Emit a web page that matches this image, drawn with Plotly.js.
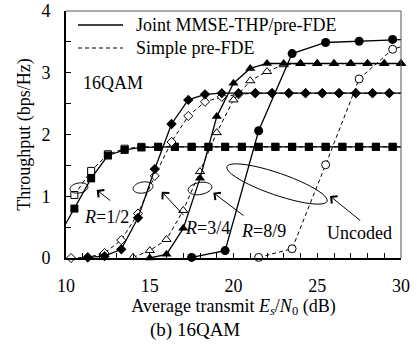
<!DOCTYPE html>
<html>
<head>
<meta charset="utf-8">
<script src="https://cdn.plot.ly/plotly-3.0.1.min.js"></script>
<style>
html,body{margin:0;padding:0;background:#fff;}
#chart{width:417px;height:348px;}
</style>
</head>
<body>
<div id="chart"></div>
<script>
// ---- data ----
// R=1/2 (squares)
const sqJointX  = [9.5, 10.5, 11.5, 12.5, 13.5, 14.5, 15.5, 16.5, 17.5, 18.5, 19.5, 20.5, 21.5, 22.5, 23.5, 24.5, 25.5, 26.5, 27.5, 28.5, 29.5, 30.5];
const sqJointY  = [0.32, 0.80, 1.29, 1.66, 1.75, 1.79, 1.80, 1.80, 1.80, 1.80, 1.80, 1.80, 1.80, 1.80, 1.80, 1.80, 1.80, 1.80, 1.80, 1.80, 1.80, 1.80];
const sqSimpleX = [10.5, 11.5, 12.5, 13.5, 14.5, 15.5, 16.5, 17.5, 18.5, 19.5, 20.5, 21.5, 22.5, 23.5, 24.5, 25.5, 26.5, 27.5, 28.5, 29.5, 30.5];
const sqSimpleY = [1.02, 1.41, 1.68, 1.77, 1.80, 1.80, 1.80, 1.80, 1.80, 1.80, 1.80, 1.80, 1.80, 1.80, 1.80, 1.80, 1.80, 1.80, 1.80, 1.80, 1.80];
// R=3/4 (diamonds)
const diJointX  = [11.3, 12.3, 13.3, 14.3, 15.3, 16.3, 17.3, 18.3, 19.3, 20.3, 21.3, 22.3, 23.3, 24.3, 25.3, 26.3, 27.3, 28.3, 29.3, 30.3];
const diJointY  = [0.01, 0.03, 0.14, 0.65, 1.44, 2.17, 2.56, 2.65, 2.67, 2.67, 2.67, 2.67, 2.67, 2.67, 2.67, 2.67, 2.67, 2.67, 2.67, 2.67];
const diSimpleX = [10.3, 11.3, 12.3, 13.3, 14.3, 15.3, 16.3, 17.3, 18.3, 19.3, 20.3, 21.3, 22.3, 23.3, 24.3, 25.3, 26.3, 27.3, 28.3, 29.3, 30.3];
const diSimpleY = [0.00, 0.01, 0.08, 0.29, 0.72, 1.33, 1.88, 2.30, 2.53, 2.61, 2.65, 2.67, 2.67, 2.67, 2.67, 2.67, 2.67, 2.67, 2.67, 2.67, 2.67];
// R=8/9 (triangles)
const trJointX  = [15, 16, 17, 18, 19, 20, 21, 22, 23, 24, 25, 26, 27, 28, 29, 30];
const trJointY  = [0.00, 0.06, 0.48, 1.29, 2.29, 2.83, 3.07, 3.15, 3.15, 3.15, 3.15, 3.15, 3.15, 3.15, 3.15, 3.15];
const trSimpleX = [14, 15, 16, 17, 18, 19, 20, 21, 22, 23, 24, 25, 26, 27, 28, 29, 30];
const trSimpleY = [0.01, 0.12, 0.30, 0.77, 1.40, 2.03, 2.56, 2.87, 3.02, 3.13, 3.15, 3.15, 3.15, 3.15, 3.15, 3.15, 3.15];
// Uncoded (circles)
const ciJointX  = [17.5, 19.5, 21.5, 23.5, 25.5, 27.5, 29.5, 31.5];
const ciJointY  = [0.01, 0.12, 2.06, 3.31, 3.49, 3.51, 3.54, 3.55];
const ciSimpleX = [21.5, 23.5, 25.5, 27.5, 29.5, 31.5];
const ciSimpleY = [0.01, 0.15, 1.51, 2.90, 3.38, 3.55];

const xTickVals = [10, 15, 20, 25, 30];
const yTickVals = [0, 1, 2, 3, 4];
const legendNames = ['Joint MMSE-THP/pre-FDE', 'Simple pre-FDE'];
const xTitle = 'Average transmit <i>E</i><sub><i>s</i></sub>/<i>N</i><sub>0</sub> (dB)';
const yTitle = 'Throughput (bps/Hz)';
const caption = '(b) 16QAM';

// ---- styling ----
const FONT = 'Liberation Serif, Times New Roman, serif';
const X0 = 10, X1 = 30, Y0 = 0, Y1 = 4;
const PL = 66, PR = 401, PT = 11, PB = 258;
const pxToX = p => X0 + (p - PL) * (X1 - X0) / (PR - PL);
const pyToY = p => Y0 + (PB - p) * (Y1 - Y0) / (PB - PT);
const pxToPaper = p => (p - PL) / (PR - PL);
const pyToPaper = p => (PB - p) / (PB - PT);

const solid = {color: '#000', width: 1.3};
const dashed = {color: '#000', width: 1, dash: '4px,3px'};

function inRange(xs, ys) {
  const ox = [], oy = [];
  xs.forEach((x, i) => { if (x >= X0 && x <= X1) { ox.push(x); oy.push(ys[i]); } });
  return {x: ox, y: oy};
}
const traces = [];
function series(xs, ys, line, symbol, size, open, name) {
  traces.push({x: xs, y: ys, mode: 'lines', line: line, name: name, showlegend: false, hoverinfo: 'skip'});
  const p = inRange(xs, ys);
  traces.push({x: p.x, y: p.y, mode: 'markers', cliponaxis: false, name: name, showlegend: false, hoverinfo: 'skip',
    marker: {symbol: symbol, size: size, color: open ? '#fff' : '#000', line: {color: '#000', width: open ? 1 : 0}}});
}
series(sqSimpleX, sqSimpleY, dashed, 'square', 7, true, legendNames[1]);
series(sqJointX, sqJointY, solid, 'square', 8, false, legendNames[0]);
series(diSimpleX, diSimpleY, dashed, 'diamond', 7, true, legendNames[1]);
series(diJointX, diJointY, solid, 'diamond', 8, false, legendNames[0]);
series(trSimpleX, trSimpleY, dashed, 'triangle-up', 8, true, legendNames[1]);
series(trJointX, trJointY, solid, 'triangle-up', 9, false, legendNames[0]);
series(ciSimpleX, ciSimpleY, dashed, 'circle', 8, true, legendNames[1]);
series(ciJointX, ciJointY, solid, 'circle', 9, false, legendNames[0]);

function ellipse(cx, cy, rx, ry, deg) {
  const a = deg * Math.PI / 180, pts = [];
  for (let i = 0; i <= 48; i++) {
    const t = 2 * Math.PI * i / 48;
    const ex = rx * Math.cos(t), ey = ry * Math.sin(t);
    const px = cx + ex * Math.cos(a) - ey * Math.sin(a);
    const py = cy + ex * Math.sin(a) + ey * Math.cos(a);
    pts.push((i ? 'L' : 'M') + pxToX(px).toFixed(4) + ',' + pyToY(py).toFixed(4));
  }
  return {type: 'path', xref: 'x', yref: 'y', path: pts.join(' ') + ' Z', line: {color: '#000', width: 1}};
}
function legendLine(py, line) {
  return {type: 'line', xref: 'paper', yref: 'paper', x0: pxToPaper(78), x1: pxToPaper(123),
    y0: pyToPaper(py), y1: pyToPaper(py), line: line};
}
const shapes = [
  ellipse(79, 188, 9, 5, -10),
  ellipse(143, 187.5, 10, 5.5, -10),
  ellipse(200, 188.5, 12, 6, -10),
  ellipse(277, 184, 53, 11, 19),
  legendLine(25, solid),
  legendLine(48, dashed),
  {type: 'line', xref: 'paper', yref: 'paper', x0: 0, x1: 1, y0: 1, y1: 1, line: {color: '#555', width: 1}},
  {type: 'line', xref: 'paper', yref: 'paper', x0: 1, x1: 1, y0: 0, y1: 1, line: {color: '#555', width: 1}}
];

function arrow(tx, ty, hx, hy) {
  return {x: pxToX(hx), y: pyToY(hy), ax: pxToX(tx), ay: pyToY(ty), xref: 'x', yref: 'y', axref: 'x', ayref: 'y',
    text: '', showarrow: true, arrowhead: 4, arrowsize: 1.8, arrowwidth: 1, arrowcolor: '#000'};
}
function label(text, px, py) {
  return {x: pxToX(px), y: pyToY(py), xref: 'x', yref: 'y', text: text, showarrow: false,
    xanchor: 'center', yanchor: 'middle', font: {family: FONT, size: 18, color: '#000'}};
}
function legendText(text, py) {
  return {x: pxToPaper(134), y: pyToPaper(py), xref: 'paper', yref: 'paper', text: text, showarrow: false,
    xanchor: 'left', yanchor: 'middle', font: {family: FONT, size: 18, color: '#000'}};
}
const annotations = [
  legendText(legendNames[0], 25),
  legendText(legendNames[1], 48),
  label('16QAM', 113, 83),
  label('<i>R</i>=1/2', 106.5, 217),
  label('<i>R</i>=3/4', 207.5, 228),
  label('<i>R</i>=8/9', 263, 231),
  label('Uncoded', 359, 233),
  arrow(111.7, 201.7, 96.7, 190),
  arrow(185, 216.7, 161.7, 191.7),
  arrow(245, 216.7, 213.3, 192.7),
  arrow(361.7, 221.7, 330, 196),
  {x: pxToPaper(195), y: pyToPaper(330), xref: 'paper', yref: 'paper', text: caption, showarrow: false,
   xanchor: 'center', yanchor: 'middle', font: {family: FONT, size: 19, color: '#000'}}
];

const axisCommon = {
  showgrid: false, zeroline: false, showline: true, linecolor: '#000', linewidth: 2,
  ticks: 'inside', ticklen: 5, tickwidth: 1, tickcolor: '#000',
  tickfont: {family: FONT, size: 18, color: '#000'}
};
const layout = {
  width: 417, height: 348,
  margin: {l: PL, r: 417 - PR, t: PT, b: 348 - PB},
  paper_bgcolor: '#fff', plot_bgcolor: '#fff',
  font: {family: FONT, size: 18, color: '#000'},
  xaxis: Object.assign({}, axisCommon, {
    range: [X0, X1], tickvals: xTickVals, ticklabelstandoff: 10,
    minor: {dtick: 1, tick0: 10, ticks: 'inside', ticklen: 5, tickcolor: '#000', tickwidth: 1},
    title: {text: xTitle, font: {family: FONT, size: 18, color: '#000'}, standoff: 4}
  }),
  yaxis: Object.assign({}, axisCommon, {
    range: [Y0, Y1], tickvals: yTickVals, ticklabelstandoff: 10,
    minor: {dtick: 0.5, tick0: 0, ticks: 'inside', ticklen: 5, tickcolor: '#000', tickwidth: 1},
    title: {text: yTitle, font: {family: FONT, size: 18, color: '#000'}, standoff: 6}
  }),
  showlegend: false,
  shapes: shapes,
  annotations: annotations
};
Plotly.newPlot('chart', traces, layout, {displayModeBar: false, staticPlot: true});
</script>
</body>
</html>
